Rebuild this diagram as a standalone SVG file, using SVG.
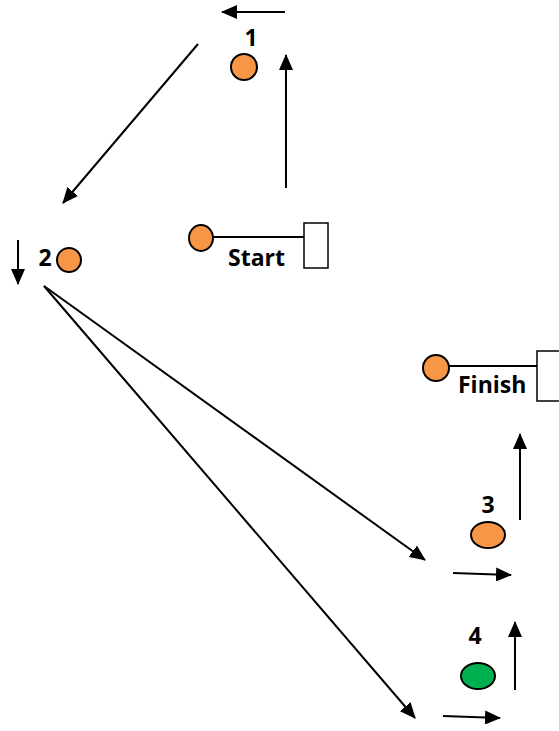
<svg xmlns="http://www.w3.org/2000/svg" width="559" height="731" viewBox="0 0 559 731">
<defs>
<marker id="ah" markerUnits="userSpaceOnUse" markerWidth="16" markerHeight="14" refX="15" refY="7" orient="auto">
<path d="M0,0 L16,7 L0,14 Z" fill="#000"/>
</marker>
<style>
.c{stroke:#000;stroke-width:2;fill:none}
.a{stroke:#000;stroke-width:2;fill:none;marker-end:url(#ah)}
.o{fill:#F79646;stroke:#000;stroke-width:2}
.g{fill:#00B050;stroke:#000;stroke-width:2}
.t{font-family:"Open Sans","Liberation Sans",sans-serif;font-weight:bold;font-size:23px;fill:#000}
.b{fill:#fff;stroke:#000;stroke-width:1.5}
</style>
</defs>
<rect width="559" height="731" fill="#fff"/>
<g id="connectors">
<line class="a" x1="285" y1="12" x2="222" y2="12"/>
<line class="a" x1="286" y1="188" x2="286" y2="55"/>
<line class="a" x1="198" y1="44" x2="63" y2="203"/>
<line class="a" x1="18" y1="240" x2="18" y2="284"/>
<line class="a" x1="44" y1="286" x2="425" y2="560"/>
<line class="a" x1="44" y1="286" x2="415" y2="718"/>
<line class="a" x1="520" y1="520" x2="520" y2="434"/>
<line class="a" x1="453" y1="573" x2="511" y2="575"/>
<line class="a" x1="515" y1="690" x2="515" y2="622"/>
<line class="a" x1="443" y1="716" x2="500" y2="718"/>
</g>
<g id="p1">
<text class="t" x="251" y="46" text-anchor="middle">1</text>
<circle class="o" cx="244" cy="67" r="13"/>
</g>
<g id="p2">
<text class="t" x="45" y="266" text-anchor="middle">2</text>
<circle class="o" cx="69" cy="260" r="12"/>
</g>
<g id="start">
<line class="c" x1="213" y1="237" x2="304" y2="237"/>
<ellipse class="o" cx="201" cy="238" rx="12" ry="13"/>
<rect class="b" x="304" y="223" width="24" height="45"/>
<text class="t" x="228" y="266">Start</text>
</g>
<g id="finish">
<line class="c" x1="449" y1="366" x2="537" y2="366"/>
<circle class="o" cx="436" cy="368" r="13"/>
<rect class="b" x="537" y="351" width="30" height="50"/>
<text class="t" x="458" y="393">Finish</text>
</g>
<g id="p3">
<text class="t" x="488" y="513" text-anchor="middle">3</text>
<ellipse class="o" cx="488" cy="535" rx="17" ry="13"/>
</g>
<g id="p4">
<text class="t" x="475" y="644" text-anchor="middle">4</text>
<ellipse class="g" cx="478" cy="676" rx="17" ry="13"/>
</g>
</svg>
